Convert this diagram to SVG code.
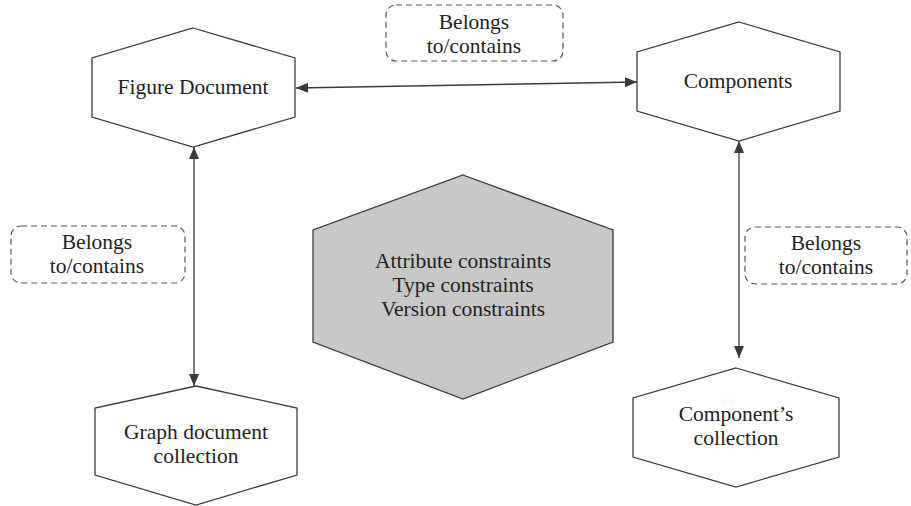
<svg xmlns="http://www.w3.org/2000/svg" width="911" height="506" viewBox="0 0 911 506">
<defs>
<style>
.hex{fill:#ffffff;stroke:#3a3a3a;stroke-width:1.3}
.hexg{fill:#c8c8c8;stroke:#3a3a3a;stroke-width:1.3}
.t{font-family:"Liberation Serif","Times New Roman",serif;font-size:21.5px;fill:#231f20;text-anchor:middle}
.lbl{fill:#ffffff;stroke:#555555;stroke-width:1.2;stroke-dasharray:6 4}
.con{stroke:#3a3a3a;stroke-width:1.3;fill:none}
</style>
<marker id="ah" viewBox="0 0 12 10" refX="12" refY="5" markerWidth="12" markerHeight="10" markerUnits="userSpaceOnUse" orient="auto-start-reverse">
<path d="M0,0 L12,5 L0,10 Z" fill="#3a3a3a"/>
</marker>
</defs>
<rect width="911" height="506" fill="#ffffff"/>
<g id="connectors">
<line class="con" x1="296" y1="88" x2="637" y2="82" marker-start="url(#ah)" marker-end="url(#ah)"/>
<line class="con" x1="194" y1="147" x2="194" y2="386" marker-start="url(#ah)" marker-end="url(#ah)"/>
<line class="con" x1="739" y1="141" x2="739" y2="358" marker-start="url(#ah)" marker-end="url(#ah)"/>
</g>
<g id="figure-document">
<polygon class="hex" points="193,28 295,58 295,117 193,147 92,117 92,58"/>
<text class="t" x="193" y="94">Figure Document</text>
</g>
<g id="components">
<polygon class="hex" points="739,22 840,52 840,111 739,141 637,111 637,52"/>
<text class="t" x="738" y="88">Components</text>
</g>
<g id="constraints">
<polygon class="hexg" points="463,175 613,230 613,342 463,399 313,342 313,230"/>
<text class="t" x="463" y="268">Attribute constraints</text>
<text class="t" x="463" y="292">Type constraints</text>
<text class="t" x="463" y="316">Version constraints</text>
</g>
<g id="graph-document-collection">
<polygon class="hex" points="196,386 297,408 297,475 196,505 95,475 95,408"/>
<text class="t" x="196" y="439">Graph document</text>
<text class="t" x="196" y="463">collection</text>
</g>
<g id="components-collection">
<polygon class="hex" points="736,368 839,398 839,457 736,487 633,457 633,398"/>
<text class="t" x="736" y="421">Component’s</text>
<text class="t" x="736" y="445">collection</text>
</g>
<g id="label-top">
<rect class="lbl" x="386" y="5" width="177" height="56" rx="10"/>
<text class="t" x="474" y="29">Belongs</text>
<text class="t" x="474" y="53">to/contains</text>
</g>
<g id="label-left">
<rect class="lbl" x="11" y="226" width="174" height="57" rx="10"/>
<text class="t" x="97" y="249">Belongs</text>
<text class="t" x="97" y="273">to/contains</text>
</g>
<g id="label-right">
<rect class="lbl" x="745" y="227" width="162" height="57" rx="10"/>
<text class="t" x="826" y="250">Belongs</text>
<text class="t" x="826" y="274">to/contains</text>
</g>
</svg>
